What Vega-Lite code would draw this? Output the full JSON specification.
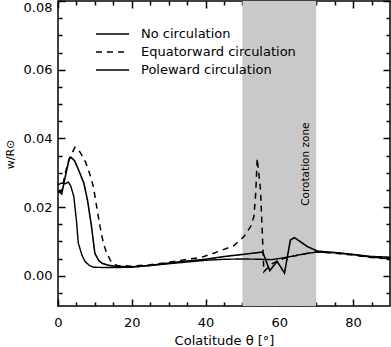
{
  "$schema": "https://vega.github.io/schema/vega-lite/v6.json",
  "width": 332,
  "height": 305,
  "autosize": {"type": "none"},
  "padding": {"left": 58, "top": 1, "right": 1, "bottom": 41},
  "background": "white",
  "config": {
    "view": {"stroke": "black", "strokeWidth": 1.5},
    "font": "DejaVu Sans",
    "axis": {"domain": false, "grid": false, "labelColor": "black", "labelFontSize": 13, "labelFont": "DejaVu Sans", "titleFont": "DejaVu Sans", "titleColor": "black", "titleFontWeight": "normal", "labelOverlap": false, "labelFlush": false}
  },
  "datasets": {
    "curves": [
      {"series": "No circulation", "x": 0, "y": 0.0248},
      {"series": "No circulation", "x": 1, "y": 0.0238},
      {"series": "No circulation", "x": 2, "y": 0.029},
      {"series": "No circulation", "x": 3, "y": 0.0338},
      {"series": "No circulation", "x": 3.5, "y": 0.0345},
      {"series": "No circulation", "x": 4.5, "y": 0.0335},
      {"series": "No circulation", "x": 5.5, "y": 0.031},
      {"series": "No circulation", "x": 7, "y": 0.027},
      {"series": "No circulation", "x": 8, "y": 0.022},
      {"series": "No circulation", "x": 9, "y": 0.015},
      {"series": "No circulation", "x": 10, "y": 0.0065},
      {"series": "No circulation", "x": 11, "y": 0.0045},
      {"series": "No circulation", "x": 12, "y": 0.0036},
      {"series": "No circulation", "x": 14, "y": 0.003},
      {"series": "No circulation", "x": 16, "y": 0.0027},
      {"series": "No circulation", "x": 20, "y": 0.0026},
      {"series": "No circulation", "x": 25, "y": 0.003},
      {"series": "No circulation", "x": 30, "y": 0.0037},
      {"series": "No circulation", "x": 35, "y": 0.0043},
      {"series": "No circulation", "x": 40, "y": 0.0048},
      {"series": "No circulation", "x": 45, "y": 0.0056},
      {"series": "No circulation", "x": 50, "y": 0.0062},
      {"series": "No circulation", "x": 53, "y": 0.0066},
      {"series": "No circulation", "x": 55.5, "y": 0.0069},
      {"series": "No circulation", "x": 57.4, "y": 0.0015},
      {"series": "No circulation", "x": 59.4, "y": 0.0042},
      {"series": "No circulation", "x": 61.4, "y": 0.0008},
      {"series": "No circulation", "x": 63, "y": 0.0104},
      {"series": "No circulation", "x": 64.1, "y": 0.0111},
      {"series": "No circulation", "x": 66, "y": 0.0097},
      {"series": "No circulation", "x": 67.6, "y": 0.0085},
      {"series": "No circulation", "x": 70.3, "y": 0.0072},
      {"series": "No circulation", "x": 74, "y": 0.0068},
      {"series": "No circulation", "x": 80, "y": 0.0062},
      {"series": "No circulation", "x": 85, "y": 0.0056},
      {"series": "No circulation", "x": 90, "y": 0.0054},
      {"series": "Equatorward circulation", "x": 0, "y": 0.0244},
      {"series": "Equatorward circulation", "x": 1, "y": 0.0248},
      {"series": "Equatorward circulation", "x": 2, "y": 0.03},
      {"series": "Equatorward circulation", "x": 3, "y": 0.034},
      {"series": "Equatorward circulation", "x": 4.6, "y": 0.0374},
      {"series": "Equatorward circulation", "x": 6, "y": 0.036},
      {"series": "Equatorward circulation", "x": 7.5, "y": 0.033},
      {"series": "Equatorward circulation", "x": 8.5, "y": 0.03},
      {"series": "Equatorward circulation", "x": 9.6, "y": 0.0259},
      {"series": "Equatorward circulation", "x": 10.5, "y": 0.02},
      {"series": "Equatorward circulation", "x": 11.4, "y": 0.0143},
      {"series": "Equatorward circulation", "x": 12.3, "y": 0.0095},
      {"series": "Equatorward circulation", "x": 13.2, "y": 0.0066},
      {"series": "Equatorward circulation", "x": 14.6, "y": 0.0037},
      {"series": "Equatorward circulation", "x": 16, "y": 0.003},
      {"series": "Equatorward circulation", "x": 20, "y": 0.0028},
      {"series": "Equatorward circulation", "x": 25, "y": 0.0032},
      {"series": "Equatorward circulation", "x": 30, "y": 0.0039},
      {"series": "Equatorward circulation", "x": 35, "y": 0.0048},
      {"series": "Equatorward circulation", "x": 38.6, "y": 0.0053},
      {"series": "Equatorward circulation", "x": 41.3, "y": 0.0062},
      {"series": "Equatorward circulation", "x": 44, "y": 0.0073},
      {"series": "Equatorward circulation", "x": 47.6, "y": 0.0087},
      {"series": "Equatorward circulation", "x": 50.4, "y": 0.0114},
      {"series": "Equatorward circulation", "x": 52.2, "y": 0.0143},
      {"series": "Equatorward circulation", "x": 53.1, "y": 0.0172},
      {"series": "Equatorward circulation", "x": 53.6, "y": 0.024},
      {"series": "Equatorward circulation", "x": 54, "y": 0.0342},
      {"series": "Equatorward circulation", "x": 54.9, "y": 0.0249},
      {"series": "Equatorward circulation", "x": 55.4, "y": 0.012},
      {"series": "Equatorward circulation", "x": 55.8, "y": 0.0012},
      {"series": "Equatorward circulation", "x": 57, "y": 0.0025},
      {"series": "Equatorward circulation", "x": 58, "y": 0.0035},
      {"series": "Equatorward circulation", "x": 60, "y": 0.0046},
      {"series": "Equatorward circulation", "x": 62, "y": 0.0053},
      {"series": "Equatorward circulation", "x": 65, "y": 0.006},
      {"series": "Equatorward circulation", "x": 68, "y": 0.0066},
      {"series": "Equatorward circulation", "x": 70, "y": 0.0069},
      {"series": "Equatorward circulation", "x": 75, "y": 0.0066},
      {"series": "Equatorward circulation", "x": 80, "y": 0.006},
      {"series": "Equatorward circulation", "x": 85, "y": 0.0053},
      {"series": "Equatorward circulation", "x": 90, "y": 0.0049},
      {"series": "Poleward circulation", "x": 0, "y": 0.0265},
      {"series": "Poleward circulation", "x": 1, "y": 0.027},
      {"series": "Poleward circulation", "x": 2, "y": 0.0268},
      {"series": "Poleward circulation", "x": 2.8, "y": 0.0273},
      {"series": "Poleward circulation", "x": 3.5, "y": 0.026},
      {"series": "Poleward circulation", "x": 4.3, "y": 0.023},
      {"series": "Poleward circulation", "x": 5, "y": 0.016},
      {"series": "Poleward circulation", "x": 5.5, "y": 0.0095},
      {"series": "Poleward circulation", "x": 6.5, "y": 0.006},
      {"series": "Poleward circulation", "x": 7.3, "y": 0.0042},
      {"series": "Poleward circulation", "x": 8.5, "y": 0.003},
      {"series": "Poleward circulation", "x": 9.6, "y": 0.0025},
      {"series": "Poleward circulation", "x": 12.5, "y": 0.0024},
      {"series": "Poleward circulation", "x": 16, "y": 0.0024},
      {"series": "Poleward circulation", "x": 20, "y": 0.0025},
      {"series": "Poleward circulation", "x": 25, "y": 0.003},
      {"series": "Poleward circulation", "x": 30, "y": 0.0035},
      {"series": "Poleward circulation", "x": 35, "y": 0.004},
      {"series": "Poleward circulation", "x": 40, "y": 0.0045},
      {"series": "Poleward circulation", "x": 45, "y": 0.0048},
      {"series": "Poleward circulation", "x": 50, "y": 0.0049},
      {"series": "Poleward circulation", "x": 55, "y": 0.0048},
      {"series": "Poleward circulation", "x": 58, "y": 0.0047},
      {"series": "Poleward circulation", "x": 61, "y": 0.0052},
      {"series": "Poleward circulation", "x": 64, "y": 0.0058},
      {"series": "Poleward circulation", "x": 67, "y": 0.0064},
      {"series": "Poleward circulation", "x": 70, "y": 0.0069},
      {"series": "Poleward circulation", "x": 75, "y": 0.0068},
      {"series": "Poleward circulation", "x": 80, "y": 0.0062},
      {"series": "Poleward circulation", "x": 85, "y": 0.0054},
      {"series": "Poleward circulation", "x": 90, "y": 0.005}
    ]
  },
  "layer": [
    {
      "data": {"values": [{"x0": 50, "x1": 70}]},
      "mark": {"type": "rect", "color": "#c9c9c9"},
      "encoding": {
        "x": {"field": "x0", "type": "quantitative",
          "scale": {"domain": [0, 90], "nice": false, "zero": false},
          "axis": {"orient": "bottom", "values": [0, 20, 40, 60, 80], "tickSize": -7, "tickColor": "black", "tickWidth": 1.5,
            "labelPadding": 17,
            "title": "Colatitude θ [°]", "titleFontSize": 13, "titlePadding": 5}},
        "x2": {"field": "x1"}
      }
    },
    {
      "data": {"name": "curves"},
      "mark": {"type": "line", "color": "black", "clip": true},
      "encoding": {
        "x": {"field": "x", "type": "quantitative",
          "scale": {"domain": [0, 90], "nice": false, "zero": false},
          "axis": {"orient": "top", "values": [0, 20, 40, 60, 80], "labels": false, "title": null, "tickSize": -7, "tickColor": "black", "tickWidth": 1.5}},
        "y": {"field": "y", "type": "quantitative",
          "scale": {"domain": [-0.0088, 0.08], "nice": false, "zero": false},
          "axis": {"orient": "left", "values": [0, 0.02, 0.04, 0.06, 0.08], "format": ".2f", "tickSize": -7, "tickColor": "black", "tickWidth": 1.5,
            "labelPadding": 13,
            "labelBaseline": {"condition": {"test": "datum.value > 0.07", "value": "top"}, "value": "middle"},
            "title": "w/R⊙", "titleFontSize": 11, "titleAngle": -90, "titleX": -48, "titleY": 153, "titleAlign": "center", "titleBaseline": "middle"}},
        "strokeDash": {"field": "series", "type": "nominal",
          "scale": {"domain": ["No circulation", "Equatorward circulation", "Poleward circulation"], "range": [[1, 0], [6, 5], [1, 0]]},
          "legend": {"orient": "none", "legendX": 37, "legendY": 24, "title": null, "symbolType": "stroke", "symbolSize": 1089,
            "symbolStrokeColor": "black", "symbolStrokeWidth": 1.5, "labelFontSize": 13, "labelFont": "DejaVu Sans", "labelColor": "black",
            "labelOffset": 11, "clipHeight": 18, "rowPadding": 0, "padding": 0}},
        "strokeWidth": {"field": "series", "type": "nominal",
          "scale": {"domain": ["No circulation", "Equatorward circulation", "Poleward circulation"], "range": [1.6, 1.4, 1.1]},
          "legend": null}
      }
    },
    {
      "data": {"name": "curves"},
      "mark": {"type": "point", "opacity": 0},
      "encoding": {
        "x": {"field": "x", "type": "quantitative", "scale": {"domain": [0, 90], "nice": false, "zero": false},
          "axis": {"orient": "bottom", "values": [5, 10, 15, 25, 30, 35, 45, 50, 55, 65, 70, 75, 85], "labels": false, "title": null, "tickSize": -4, "tickColor": "black", "tickWidth": 1.5}},
        "y": {"field": "y", "type": "quantitative", "scale": {"domain": [-0.0088, 0.08], "nice": false, "zero": false},
          "axis": {"orient": "left", "values": [-0.005, 0.005, 0.01, 0.015, 0.025, 0.03, 0.035, 0.045, 0.05, 0.055, 0.065, 0.07, 0.075], "labels": false, "title": null, "tickSize": -4, "tickColor": "black", "tickWidth": 1.5}}
      }
    },
    {
      "data": {"name": "curves"},
      "mark": {"type": "point", "opacity": 0},
      "encoding": {
        "x": {"field": "x", "type": "quantitative", "scale": {"domain": [0, 90], "nice": false, "zero": false},
          "axis": {"orient": "top", "values": [5, 10, 15, 25, 30, 35, 45, 50, 55, 65, 70, 75, 85], "labels": false, "title": null, "tickSize": -4, "tickColor": "black", "tickWidth": 1.5}},
        "y": {"field": "y", "type": "quantitative", "scale": {"domain": [-0.0088, 0.08], "nice": false, "zero": false},
          "axis": {"orient": "right", "values": [-0.005, 0.005, 0.01, 0.015, 0.025, 0.03, 0.035, 0.045, 0.05, 0.055, 0.065, 0.07, 0.075], "labels": false, "title": null, "tickSize": -4, "tickColor": "black", "tickWidth": 1.5}}
      }
    },
    {
      "data": {"values": [{"x": 67.1, "y": 0.0325, "label": "Corotation zone"}]},
      "mark": {"type": "text", "angle": 270, "fontSize": 10.5, "align": "center", "baseline": "middle", "color": "black", "font": "DejaVu Sans"},
      "encoding": {
        "x": {"field": "x", "type": "quantitative", "scale": {"domain": [0, 90], "nice": false, "zero": false}, "axis": null},
        "y": {"field": "y", "type": "quantitative", "scale": {"domain": [-0.0088, 0.08], "nice": false, "zero": false},
          "axis": {"orient": "right", "values": [0, 0.02, 0.04, 0.06, 0.08], "labels": false, "title": null, "tickSize": -7, "tickColor": "black", "tickWidth": 1.5}},
        "text": {"field": "label"}
      }
    }
  ],
  "resolve": {"axis": {"x": "independent", "y": "independent"}}
}
